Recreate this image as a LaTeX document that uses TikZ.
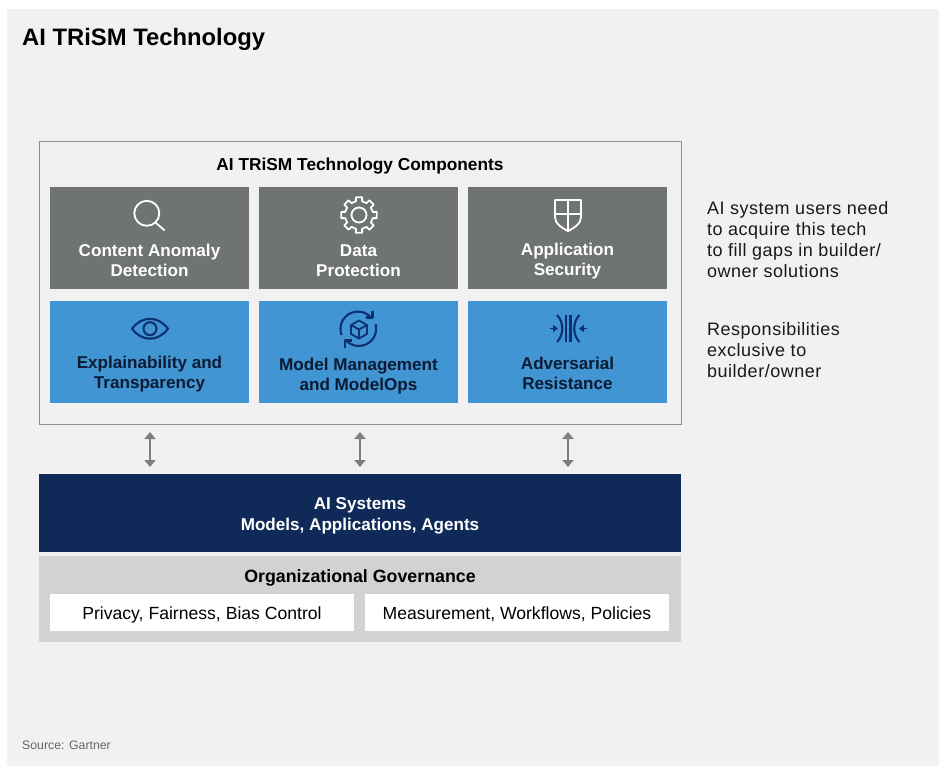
\documentclass[tikz,border=0pt]{standalone}
\usepackage{fontspec}
\setmainfont{Liberation Sans}
\usetikzlibrary{arrows.meta}
\definecolor{panelgray}{HTML}{F1F1F1}
\definecolor{boxgray}{HTML}{8F9292}
\definecolor{cellgray}{HTML}{6F7473}
\definecolor{cellblue}{HTML}{4295D3}
\definecolor{navy}{HTML}{0F2A58}
\definecolor{iconblue}{HTML}{0E2F70}
\definecolor{inkdark}{HTML}{0B1B33}
\definecolor{govgray}{HTML}{D2D2D2}
\definecolor{arrowgray}{HTML}{7D7F7F}
\tikzset{
	grayCell/.style={rectangle,minimum width=199pt,minimum height=102pt,inner sep=0pt,fill=cellgray},
	blueCell/.style={rectangle,minimum width=199pt,minimum height=102pt,inner sep=0pt,fill=cellblue},
	grayText/.style={align=center,text=white,font=\fontsize{17.1}{20}\selectfont\bfseries},
	blueText/.style={align=center,text=inkdark,font=\fontsize{17.1}{20}\selectfont\bfseries},
	sideText/.style={align=left,anchor=north west,inner sep=0pt,text=black!90,font=\fontsize{18}{21.2}\selectfont\addfontfeatures{LetterSpace=2.8}},
	whiteCell/.style={rectangle,minimum height=37pt,inner sep=0pt,text height=14pt,text depth=0.5pt,fill=white,text=black,font=\fontsize{17.6}{20}\selectfont},
	linkArrow/.style={draw=arrowgray,line width=2pt,{Triangle[width=11pt,length=7pt]}-{Triangle[width=11pt,length=7pt]}},
	whiteIcon/.style={draw=white,line width=1.8pt,line join=round},
	blueIcon/.style={draw=iconblue,line width=2.1pt,line join=round}
}
\begin{document}
\begin{tikzpicture}[x=1pt,y=-1pt]
	\useasboundingbox (0,0) rectangle (946,772);
	\fill[panelgray,rounded corners=3pt] (7,9) rectangle (939,766);

	\node (mainTitle)[anchor=west,inner sep=0pt,text=black,font=\fontsize{23.8}{28}\selectfont\bfseries] at (22,39){AI TRiSM Technology};

	% components box
	\node (compBox)[rectangle,minimum width=642pt,minimum height=283pt,inner sep=0pt,draw=boxgray,line width=1pt,fill=panelgray] at (360,282.5){};
	\node (compTitle)[text=black,font=\fontsize{17.3}{20}\selectfont\bfseries] at (360,166){AI TRiSM Technology Components};

	\node (anomalyCell)[grayCell] at (149.5,238){};
	\node (dataCell)[grayCell] at (358.5,238){};
	\node (appCell)[grayCell] at (567.5,238){};
	\node (explainCell)[blueCell] at (149.5,352){};
	\node (modelCell)[blueCell] at (358.5,352){};
	\node (advCell)[blueCell] at (567.5,352){};

	\node (anomalyText)[grayText] at (149.5,260.5){Content Anomaly\\Detection};
	\node (dataText)[grayText] at (358.5,260.5){Data\\Protection};
	\node (appText)[grayText] at (567.5,261){Application\\Security};
	\node (explainText)[blueText] at (149.5,374){Explainability and\\Transparency};
	\node (modelText)[blueText] at (358.5,376){Model Management\\and ModelOps};
	\node (advText)[blueText] at (567.5,373){Adversarial\\Resistance};

	% magnifier
	\draw[whiteIcon] (146.8,213.3) circle (12.5);
	\draw[whiteIcon] (155.5,222.5) -- (164.7,230.5);
	% gear
	\foreach \a in {0,45,...,315}{
		\draw[whiteIcon] ([shift={(359,215)}]\a-22.5:14) -- ([shift={(359,215)}]\a-13:14) -- ([shift={(359,215)}]\a-10:18) -- ([shift={(359,215)}]\a+10:18) -- ([shift={(359,215)}]\a+13:14) -- ([shift={(359,215)}]\a+22.5:14);
	}
	\draw[whiteIcon] (359,215) circle (7.5);
	% shield
	\draw[whiteIcon] (555,200) -- (581,200) -- (581,217) .. controls (581,224) and (574,228) .. (568,231) .. controls (562,228) and (555,224) .. (555,217) -- cycle;
	\draw[whiteIcon] (568,200) -- (568,231);
	\draw[whiteIcon] (555,214) -- (581,214);
	% eye
	\draw[blueIcon] (132,328.7) .. controls (142,315.5) and (158,315.5) .. (168,328.7) .. controls (158,342) and (142,342) .. (132,328.7) -- cycle;
	\draw[blueIcon] (150,328.7) circle (6.5);
	% sync around cube
	\draw[blueIcon] (341.5,335) arc (160:320:17.5);
	\draw[blueIcon] (365.5,317.5) -- (372.5,317.5) -- (372.5,310.5);
	\draw[blueIcon] (375.6,324) arc (-15:140:17.5);
	\draw[blueIcon] (352,340.5) -- (345,340.5) -- (345,347.5);
	\draw[draw=iconblue,line width=1.8pt,line join=round] (359,320.5) -- (367,325) -- (367,334) -- (359,338.5) -- (351,334) -- (351,325) -- cycle;
	\draw[draw=iconblue,line width=1.8pt,line join=round] (351,325) -- (359,329.5) -- (367,325);
	\draw[draw=iconblue,line width=1.8pt] (359,329.5) -- (359,338.5);
	% converging arrows
	\draw[blueIcon] (566,315) -- (566,342);
	\draw[blueIcon] (570.5,315) -- (570.5,342);
	\draw[blueIcon] (557,315) .. controls (564,322) and (564,335) .. (557,342);
	\draw[blueIcon] (579.5,315) .. controls (572.5,322) and (572.5,335) .. (579.5,342);
	\draw[draw=iconblue,line width=1.6pt,-{Triangle[width=7pt,length=5pt]}] (550,328.5) -- (558,328.5);
	\draw[draw=iconblue,line width=1.6pt,-{Triangle[width=7pt,length=5pt]}] (587,328.5) -- (579,328.5);

	% systems and governance
	\node (sysBox)[rectangle,minimum width=642pt,minimum height=78pt,inner sep=0pt,fill=navy] at (360,513){};
	\node (sysText)[align=center,text=white,font=\fontsize{17.1}{21}\selectfont\bfseries] at (360,516){AI Systems\\Models, Applications, Agents};
	\node (govBox)[rectangle,minimum width=642pt,minimum height=86pt,inner sep=0pt,fill=govgray] at (360,599){};
	\node (govTitle)[text=black,font=\fontsize{17.8}{20}\selectfont\bfseries] at (360,578){Organizational Governance};
	\node (privacyCell)[whiteCell,minimum width=304pt] at (202,612.5){Privacy, Fairness, Bias Control};
	\node (measureCell)[whiteCell,minimum width=304pt] at (517,612.5){Measurement, Workflows, Policies};

	% arrows between box and systems
	\coordinate (linkTopA) at (150,432);
	\coordinate (linkBotA) at (150,467);
	\coordinate (linkTopB) at (360,432);
	\coordinate (linkBotB) at (360,467);
	\coordinate (linkTopC) at (568,432);
	\coordinate (linkBotC) at (568,467);
	\draw[linkArrow] (linkTopA) -- (linkBotA);
	\draw[linkArrow] (linkTopB) -- (linkBotB);
	\draw[linkArrow] (linkTopC) -- (linkBotC);

	% side notes
	\node (buyNote)[sideText] at (707,201){AI system users need\\to acquire this tech\\to fill gaps in builder/\\owner solutions};
	\node (ownerNote)[sideText] at (707,322){Responsibilities\\exclusive to\\builder/owner};
	\node (sourceNote)[anchor=west,inner sep=0pt,text=black!60,font=\fontsize{12.3}{14}\selectfont] at (22,745){Source: Gartner};
\end{tikzpicture}
\end{document}
